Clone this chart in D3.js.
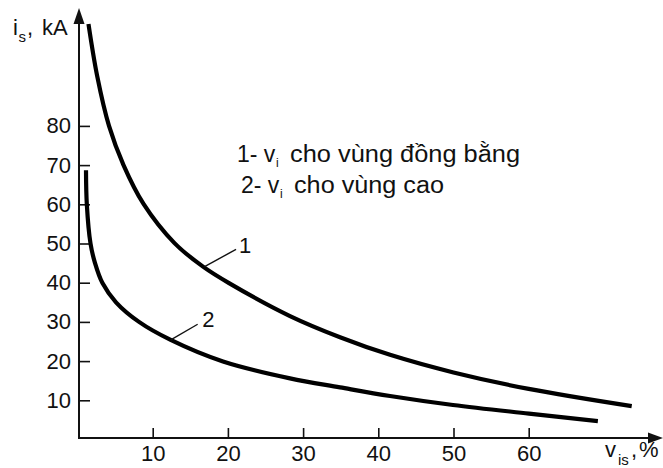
<!DOCTYPE html>
<html>
<head>
<meta charset="utf-8">
<script src="https://cdn.jsdelivr.net/npm/d3@7"></script>
<style>
  html, body { margin: 0; padding: 0; background: #fff; }
  svg { display: block; }
  text { font-family: "Liberation Sans", Arial, Helvetica, sans-serif; fill: #111; }
</style>
</head>
<body>
<svg id="chart" width="663" height="468"></svg>
<script>
// ---- data ----
const xTicks = [10, 20, 30, 40, 50, 60];
const yTicks = [10, 20, 30, 40, 50, 60, 70, 80];

// curve 1: vi for plains (vùng đồng bằng)
const curve1V = [1.46, 2.62, 4.19, 6.12, 8.78, 12.9, 16.69, 20.15, 28.26, 34.91, 41.56, 50.0, 60.0, 73.7];
const curve1I = [106.0, 92.7, 80.0, 70.0, 60.1, 50.1, 44.1, 39.9, 31.5, 26.1, 21.6, 17.1, 12.9, 8.5];

// curve 2: vi for highlands (vùng cao)
const curve2V = [1.13, 1.24, 1.73, 2.33, 3.32, 5.12, 8.18, 12.39, 19.35, 28.26, 34.91, 41.56, 49.93, 60.04, 69.2];
const curve2I = [68.7, 60.0, 50.0, 45.0, 39.9, 35.0, 30.0, 25.4, 19.9, 15.6, 13.3, 11.1, 8.8, 6.6, 4.7];

const curveLabels = ["1", "2"];
const legendLines = [
  ["1- v", "i", "cho vùng đồng bằng"],
  ["2- v", "i", "cho vùng cao"]
];
const yTitle = ["i", "s", ",", "kA"];
const xTitle = ["v", "is", ",", "%"];

// ---- layout ----
const svg = d3.select("#chart");
const x = d3.scaleLinear().domain([0, 60]).range([77.5, 528.7]);
const y = d3.scaleLinear().domain([0, 80]).range([439.5, 125.9]);
const axX = 79, axY = 438;

// axes lines
svg.append("line").attr("x1", axX - 1).attr("y1", axY).attr("x2", 652).attr("y2", axY)
  .attr("stroke", "#111").attr("stroke-width", 2);
svg.append("line").attr("x1", axX).attr("y1", axY + 1).attr("x2", axX).attr("y2", 20)
  .attr("stroke", "#111").attr("stroke-width", 2);
// arrowheads
svg.append("path").attr("d", `M663,${axY} L648,${axY - 5.5} L648,${axY + 5.5} Z`).attr("fill", "#111");
svg.append("path").attr("d", `M${axX},8 L${axX - 5.5},24 L${axX + 5.5},24 Z`).attr("fill", "#111");

// ticks via d3 axes
const xAxis = d3.axisBottom(x).tickValues(xTicks).tickSize(-10).tickPadding(18).tickFormat(d3.format("d"));
const gx = svg.append("g").attr("transform", `translate(0,${axY})`).call(xAxis);
gx.select(".domain").remove();
gx.selectAll(".tick line").attr("stroke", "#111").attr("stroke-width", 1.6);
gx.selectAll(".tick text").attr("font-size", 22).attr("font-family", "Liberation Sans, Arial, sans-serif")
  .attr("fill", "#111").attr("dy", "0.71em").attr("y", 7);

const yAxis = d3.axisLeft(y).tickValues(yTicks).tickSize(-11).tickPadding(19).tickFormat(d3.format("d"));
const gy = svg.append("g").attr("transform", `translate(${axX},0)`).call(yAxis);
gy.select(".domain").remove();
gy.selectAll(".tick line").attr("stroke", "#111").attr("stroke-width", 1.6);
gy.selectAll(".tick text").attr("font-size", 22).attr("font-family", "Liberation Sans, Arial, sans-serif")
  .attr("fill", "#111").attr("x", -8);

// curves
const line = d3.line().x(d => x(d[0])).y(d => y(d[1])).curve(d3.curveCatmullRom.alpha(0.5));
const c1 = curve1V.map((v, i) => [v, curve1I[i]]);
const c2 = curve2V.map((v, i) => [v, curve2I[i]]);
[c1, c2].forEach(c => {
  svg.append("path").attr("d", line(c)).attr("fill", "none")
    .attr("stroke", "#000").attr("stroke-width", 4.2).attr("stroke-linecap", "butt");
});

// leader lines and curve labels (anchored to data points)
const leaders = [
  { p: [16.9, 44.1], q: [21.08, 48.5], t: [22.3, 47.7], label: curveLabels[0] },
  { p: [12.4, 25.4], q: [15.98, 29.4], t: [17.4, 28.8], label: curveLabels[1] }
];
leaders.forEach(l => {
  svg.append("line").attr("x1", x(l.p[0])).attr("y1", y(l.p[1]))
    .attr("x2", x(l.q[0])).attr("y2", y(l.q[1]))
    .attr("stroke", "#111").attr("stroke-width", 1.4);
  svg.append("text").attr("x", x(l.t[0])).attr("y", y(l.t[1]))
    .attr("font-size", 22).attr("text-anchor", "middle").text(l.label);
});

// legend text
const legendGeom = [
  { x0: 237, xs: 276, x1: 290, x2: 520, yb: 162 },
  { x0: 241, xs: 280, x1: 294, x2: 444, yb: 193 }
];
legendLines.forEach((parts, k) => {
  const g = legendGeom[k];
  svg.append("text").attr("x", g.x0).attr("y", g.yb).attr("font-size", 23).text(parts[0]);
  svg.append("text").attr("x", g.xs).attr("y", g.yb + 5).attr("font-size", 12).text(parts[1]);
  svg.append("text").attr("x", g.x1).attr("y", g.yb).attr("font-size", 23)
    .attr("textLength", g.x2 - g.x1).attr("lengthAdjust", "spacingAndGlyphs").text(parts[2]);
});

// y-axis title
svg.append("text").attr("x", 13).attr("y", 35).attr("font-size", 22).text(yTitle[0]);
svg.append("text").attr("x", 18.5).attr("y", 42).attr("font-size", 15).text(yTitle[1]);
svg.append("text").attr("x", 27).attr("y", 35).attr("font-size", 22).text(yTitle[2]);
svg.append("text").attr("x", 42).attr("y", 35).attr("font-size", 22).text(yTitle[3]);

// x-axis title
svg.append("text").attr("x", 605).attr("y", 457).attr("font-size", 22).text(xTitle[0]);
svg.append("text").attr("x", 618).attr("y", 465).attr("font-size", 15).text(xTitle[1]);
svg.append("text").attr("x", 631).attr("y", 457).attr("font-size", 22).text(xTitle[2]);
svg.append("text").attr("x", 639).attr("y", 457).attr("font-size", 22).text(xTitle[3]);
</script>
</body>
</html>
